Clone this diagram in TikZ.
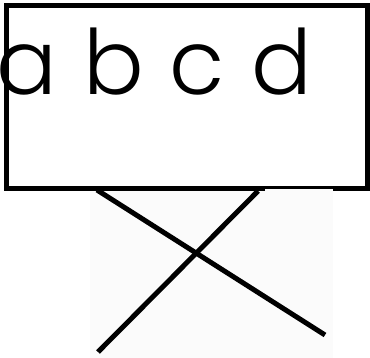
\documentclass[tikz,border=0pt]{standalone}
\usepackage{fontspec}
\setmainfont{Poppins}[UprightFont=* Light,WordSpace=1.06]
\begin{document}
\begin{tikzpicture}[x=1pt,y=-1pt,
  frame/.style={draw=black,line width=4.8pt},
  stick/.style={draw=black,line width=5pt},
  label/.style={inner sep=0pt,font=\fontsize{90}{90}\selectfont}]
\useasboundingbox (0,0) rectangle (370,358);
\fill[white] (0,0) rectangle (370,358);
\fill[gray!3] (90,189) rectangle (333,358);
\draw[frame] (6.5,5.5) rectangle (367.5,188.5);
\fill[gray!3] (265,189.3) rectangle (333,191.5);
\node[label,anchor=base west] (t) at (-4,95) {a b c d};
\coordinate (p1) at (97,190);
\coordinate (p2) at (325,335);
\coordinate (q1) at (258,191);
\coordinate (q2) at (98,352);
\draw[stick] (p1) -- (p2);
\draw[stick] (q1) -- (q2);
\end{tikzpicture}
\end{document}
